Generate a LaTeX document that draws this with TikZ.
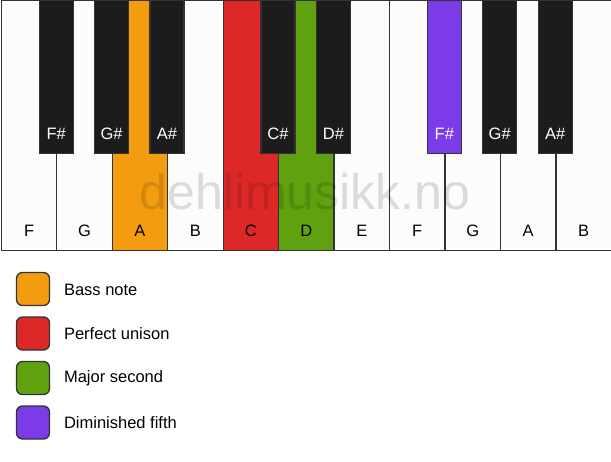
\documentclass[tikz,border=0pt]{standalone}
\usepackage{fontspec}
\setmainfont{Liberation Sans}
\definecolor{keywhite}{HTML}{FDFCFA}
\definecolor{keyblack}{HTML}{1C1C1C}
\definecolor{edge}{HTML}{333333}
\definecolor{cbass}{HTML}{F39C10}
\definecolor{cuni}{HTML}{DE2828}
\definecolor{csec}{HTML}{5FA10E}
\definecolor{cfifth}{HTML}{7B3BE8}
\tikzset{
  whitekey/.style={draw=edge, line width=1.3pt, fill=keywhite, rectangle, minimum width=55.5pt, minimum height=250pt, inner sep=0pt, anchor=north west},
  blackkey/.style={draw=edge, line width=1.3pt, fill=keyblack, rectangle, minimum width=34pt, minimum height=153pt, inner sep=0pt, anchor=north},
  wlabel/.style={font=\fontsize{16.5}{16.5}\selectfont, text=black},
  blabel/.style={font=\fontsize{16.5}{16.5}\selectfont, text=white},
  legbox/.style={draw=edge, line width=1.3pt, rounded corners=6pt, minimum width=33pt, minimum height=33pt, inner sep=0pt},
  legtext/.style={font=\fontsize{16.5}{16.5}\selectfont, anchor=west, text=black},
}
\begin{document}
\begin{tikzpicture}[x=1pt, y=-1pt]
\useasboundingbox[fill=white] (0,0) rectangle (611,461);
% white keys
\foreach \i/\n/\c in {0/F/keywhite,1/G/keywhite,2/A/cbass,3/B/keywhite,4/C/cuni,5/D/csec,6/E/keywhite,7/F/keywhite,8/G/keywhite,9/A/keywhite,10/B/keywhite}{
  \node[whitekey, fill=\c] (w\i) at (0.7+55.45*\i, 0) {};
  \node[wlabel] (wl\i) at ([yshift=20pt]w\i.south) {\n};
}
% watermark
\node[font=\fontsize{50}{50}\selectfont, text=black, opacity=0.13] (wm) at (305,192) {dehlimusikk.no};
% black keys
\foreach \i/\n/\c in {1/F\#/keyblack,2/G\#/keyblack,3/A\#/keyblack,5/C\#/keyblack,6/D\#/keyblack,8/F\#/cfifth,9/G\#/keyblack,10/A\#/keyblack}{
  \node[blackkey, fill=\c] (b\i) at (0.7+55.45*\i, 0) {};
  \node[blabel] (bl\i) at ([yshift=20pt]b\i.south) {\n};
}
% legend
\node[legbox, fill=cbass] (l1) at (33,289) {};
\node[legtext] (t1) at (60.5,289.5) {Bass note};
\node[legbox, fill=cuni] (l2) at (33,333.5) {};
\node[legtext] (t2) at (60.5,334) {Perfect unison};
\node[legbox, fill=csec] (l3) at (33,378) {};
\node[legtext] (t3) at (60.5,378.5) {Major second};
\node[legbox, fill=cfifth] (l4) at (33,422.5) {};
\node[legtext] (t4) at (60.5,423) {Diminished fifth};
\end{tikzpicture}
\end{document}
